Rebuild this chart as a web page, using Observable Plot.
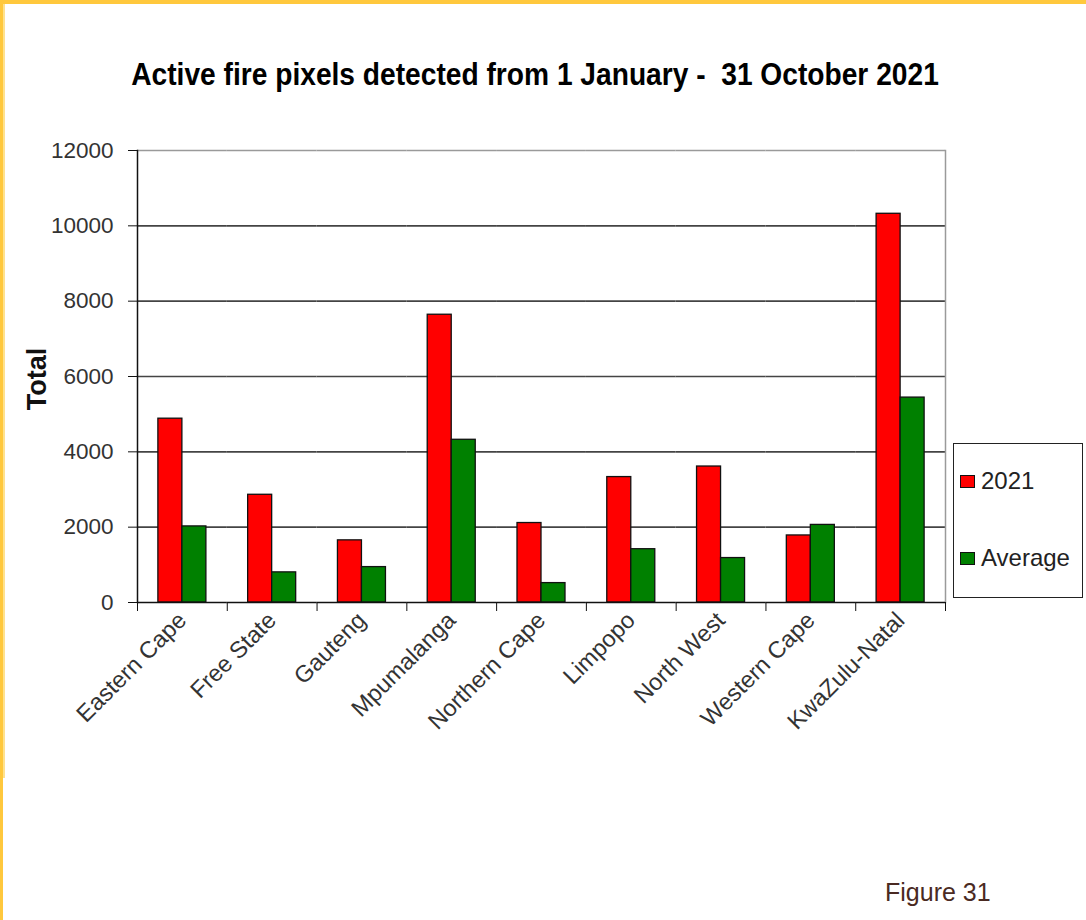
<!DOCTYPE html>
<html>
<head>
<meta charset="utf-8">
<script src="https://cdn.jsdelivr.net/npm/d3@7"></script>
<script src="https://cdn.jsdelivr.net/npm/@observablehq/plot@0.6"></script>
<style>
  html, body { margin: 0; padding: 0; background: #fff; }
  #page { position: relative; width: 1086px; height: 920px; overflow: hidden; background: #fff; font-family: "Liberation Sans", Arial, sans-serif; }
  #topbar { position: absolute; left: 0; top: 0; width: 1086px; height: 4px; background: #FFC83D; }
  #leftbar { position: absolute; left: 0; top: 0; width: 3px; height: 920px; background: #FFC83D; }
  #leftbar2 { position: absolute; left: 3px; top: 4px; width: 2px; height: 774px; background: #FFE28E; }
  #title { position: absolute; left: 535px; top: 58px; transform: translateX(-50%) scaleX(0.88); transform-origin: center; font-family: "Liberation Sans", Arial, sans-serif; font-weight: bold; font-size: 32px; color: #000; white-space: pre; line-height: 1; }
  #chart { position: absolute; left: 0; top: 100px; }
  #legend { position: absolute; left: 953px; top: 443px; width: 128px; height: 153px; border: 1.5px solid #222; background: #fff; }
  .item { position: absolute; left: 6px; font-size: 24px; color: #222; line-height: 1; }
  .sw { display: inline-block; width: 13px; height: 11px; border: 1.3px solid #111; margin-right: 6px; vertical-align: 1px; }
  #ylabel { position: absolute; left: 37px; top: 379px; transform: translate(-50%, -50%) rotate(-90deg); font-weight: bold; font-size: 27px; color: #111; }
  #caption { position: absolute; left: 885px; top: 878px; font-size: 25px; color: #4a2a22; }
</style>
</head>
<body>
<div id="page">
  <div id="topbar"></div>
  <div id="leftbar"></div>
  <div id="leftbar2"></div>
  <div id="title">Active fire pixels detected from 1 January -  31 October 2021</div>
  <div id="chart"></div>
  <div id="ylabel">Total</div>
  <div id="legend"></div>
  <div id="caption">Figure 31</div>
</div>
<script>
const provinces = ["Eastern Cape", "Free State", "Gauteng", "Mpumalanga", "Northern Cape", "Limpopo", "North West", "Western Cape", "KwaZulu-Natal"];
const seriesNames = ["2021", "Average"];
const values2021 = [4880, 2860, 1650, 7640, 2110, 3330, 3610, 1780, 10320];
const valuesAverage = [2020, 800, 940, 4320, 515, 1415, 1180, 2060, 5440];
const seriesColors = ["#FF0000", "#008000"];
const yTicks = [0, 2000, 4000, 6000, 8000, 10000, 12000];
const gridTicks = [2000, 4000, 6000, 8000, 10000];

const data = [];
provinces.forEach((p, i) => {
  data.push({province: p, series: seriesNames[0], value: values2021[i]});
  data.push({province: p, series: seriesNames[1], value: valuesAverage[i]});
});

const W = 1086, mL = 137, mR = 141, mT = 50, mB = 170;
const bw = (W - mL - mR) / provinces.length;

const chart = Plot.plot({
  width: W,
  height: 672,
  marginLeft: mL,
  marginRight: mR,
  marginTop: mT,
  marginBottom: mB,
  style: {fontFamily: "'Liberation Sans', Arial, sans-serif", fontSize: "22px", color: "#333", background: "transparent"},
  fx: {domain: provinces, padding: 0, round: false},
  x: {domain: seriesNames, paddingInner: 0, paddingOuter: 0.87, round: false, axis: null},
  y: {domain: [0, 12000]},
  color: {domain: seriesNames, range: seriesColors},
  marks: [
    Plot.ruleY(gridTicks, {stroke: "#444", strokeWidth: 1.6}),
    Plot.ruleY([12000], {stroke: "#9a9a9a", strokeWidth: 1.5}),
    Plot.frame({anchor: "right", facetAnchor: "right", stroke: "#9a9a9a", strokeWidth: 1.5}),
    Plot.barY(data, {fx: "province", x: "series", y: "value", fill: "series", stroke: "#111", strokeWidth: 1.3}),
    Plot.frame({anchor: "left", facetAnchor: "left", stroke: "#111", strokeWidth: 1.5}),
    Plot.ruleY([0], {stroke: "#111", strokeWidth: 1.5}),
    Plot.axisY({ticks: yTicks, tickSize: 9, tickPadding: 15, tickFormat: d => String(d), fontSize: 22.5, stroke: "#111", fill: "#333", label: null}),
    Plot.axisFx({anchor: "bottom", tickSize: 0, tickRotate: -45, tickPadding: 14, fontSize: 23.5, fill: "#333", label: null}),
    Plot.axisFx({anchor: "bottom", tickSize: 9, tickFormat: () => "", dx: -bw / 2, stroke: "#111", label: null}),
    Plot.axisFx({anchor: "bottom", ticks: [provinces[provinces.length - 1]], tickSize: 9, tickFormat: () => "", dx: bw / 2, stroke: "#111", label: null})
  ]
});
document.getElementById("chart").appendChild(chart);

const legend = document.getElementById("legend");
seriesNames.forEach((s, i) => {
  const it = document.createElement("div");
  it.className = "item";
  it.style.top = (i === 0 ? 25 : 102) + "px";
  it.innerHTML = `<span class="sw" style="background:${seriesColors[i]}"></span>${s}`;
  legend.appendChild(it);
});
</script>
</body>
</html>
